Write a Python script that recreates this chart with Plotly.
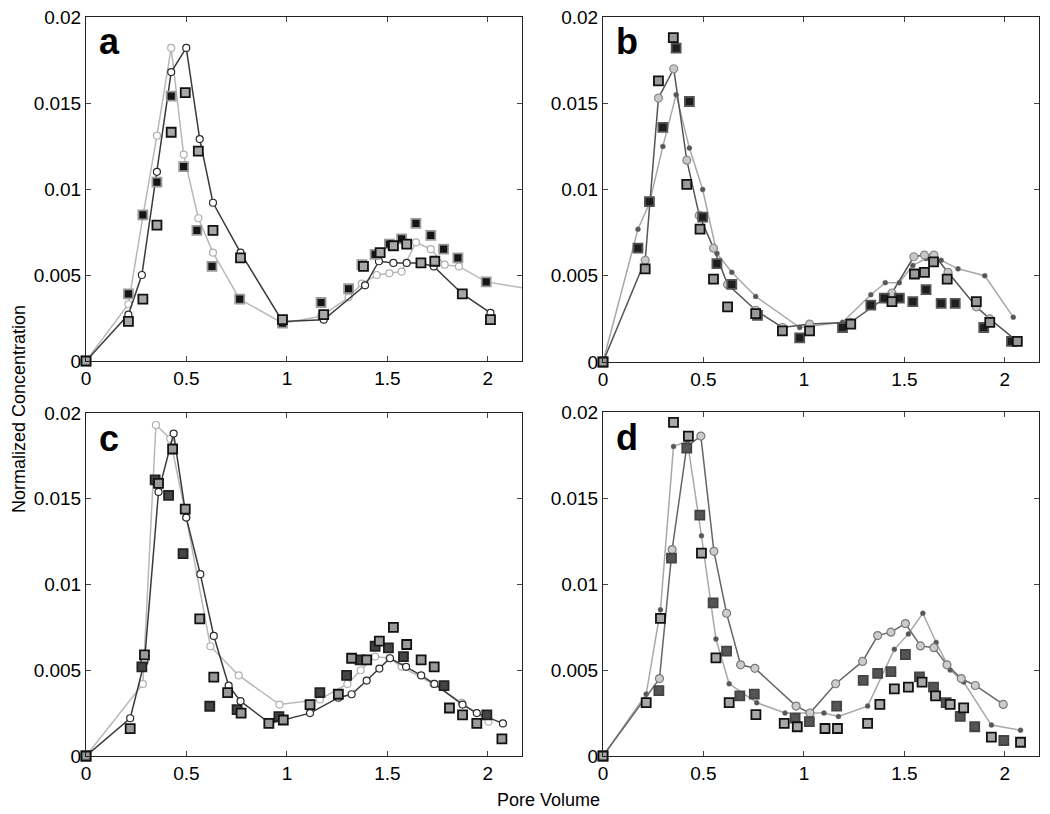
import plotly.graph_objects as go
from plotly.subplots import make_subplots

# panel a
a_lt_x = [0, 0.211, 0.283, 0.353, 0.424, 0.486, 0.559, 0.632, 0.765, 0.978, 1.170, 1.307, 1.373, 1.447, 1.510, 1.571, 1.642, 1.716, 1.785, 1.856, 1.992, 2.30]
a_lt_y = [0, 0.0033, 0.0084, 0.0131, 0.0182, 0.0120, 0.0083, 0.0063, 0.0036, 0.0022, 0.0026, 0.0037, 0.0045, 0.0050, 0.0051, 0.0052, 0.0069, 0.0065, 0.0056, 0.0055, 0.0046, 0.0040]
a_dk_x = [0, 0.211, 0.278, 0.353, 0.424, 0.499, 0.566, 0.632, 0.769, 0.978, 1.183, 1.389, 1.458, 1.530, 1.596, 1.665, 1.731, 1.873, 2.013]
a_dk_y = [0, 0.0027, 0.0050, 0.0110, 0.0168, 0.0182, 0.0129, 0.0092, 0.0063, 0.0023, 0.0024, 0.0044, 0.0058, 0.0057, 0.0057, 0.0057, 0.0055, 0.0039, 0.0028]
a_sqk_x = [0, 0.211, 0.283, 0.353, 0.424, 0.486, 0.552, 0.627, 0.765, 0.978, 1.170, 1.307, 1.373, 1.439, 1.510, 1.571, 1.642, 1.716, 1.780, 1.851, 1.992]
a_sqk_y = [0, 0.0039, 0.0085, 0.0104, 0.0154, 0.0113, 0.0076, 0.0055, 0.0036, 0.0022, 0.0034, 0.0042, 0.0056, 0.0062, 0.0068, 0.0071, 0.0080, 0.0073, 0.0065, 0.0060, 0.0046]
a_sqg_x = [0, 0.211, 0.283, 0.353, 0.424, 0.494, 0.559, 0.632, 0.769, 0.978, 1.183, 1.381, 1.464, 1.530, 1.596, 1.667, 1.736, 1.873, 2.013]
a_sqg_y = [0, 0.0023, 0.0036, 0.0079, 0.0133, 0.0156, 0.0122, 0.0076, 0.0060, 0.0024, 0.0027, 0.0055, 0.0063, 0.0067, 0.0068, 0.0057, 0.0058, 0.0039, 0.0024]

# panel b
b_cir_x = [0, 0.210, 0.276, 0.352, 0.417, 0.479, 0.550, 0.620, 0.760, 0.893, 1.028, 1.233, 1.438, 1.547, 1.600, 1.647, 1.717, 1.858, 1.925, 2.062]
b_cir_y = [0, 0.0059, 0.0153, 0.0170, 0.0117, 0.0085, 0.0066, 0.0045, 0.0030, 0.0020, 0.0022, 0.0023, 0.0040, 0.0061, 0.0062, 0.0062, 0.0052, 0.0032, 0.0025, 0.0012]
b_dot_x = [0, 0.174, 0.231, 0.298, 0.364, 0.430, 0.496, 0.567, 0.641, 0.760, 0.979, 1.192, 1.333, 1.405, 1.475, 1.542, 1.608, 1.683, 1.767, 1.900, 2.042]
b_dot_y = [0, 0.0077, 0.0092, 0.0125, 0.0155, 0.0124, 0.0100, 0.0063, 0.0052, 0.0038, 0.0020, 0.0023, 0.0039, 0.0046, 0.0046, 0.0056, 0.0060, 0.0059, 0.0054, 0.0050, 0.0026]
b_sqk_x = [0, 0.174, 0.231, 0.298, 0.364, 0.430, 0.496, 0.567, 0.641, 0.769, 0.979, 1.192, 1.333, 1.400, 1.475, 1.542, 1.608, 1.683, 1.753, 1.895, 2.033]
b_sqk_y = [0, 0.0066, 0.0093, 0.0136, 0.0182, 0.0151, 0.0084, 0.0057, 0.0045, 0.0027, 0.0014, 0.0020, 0.0033, 0.0037, 0.0037, 0.0035, 0.0042, 0.0034, 0.0034, 0.0020, 0.0012]
b_sqg_x = [0, 0.210, 0.276, 0.350, 0.417, 0.483, 0.550, 0.620, 0.760, 0.893, 1.028, 1.233, 1.438, 1.550, 1.600, 1.645, 1.713, 1.858, 1.925, 2.062]
b_sqg_y = [0, 0.0054, 0.0163, 0.0188, 0.0103, 0.0077, 0.0048, 0.0032, 0.0028, 0.0018, 0.0018, 0.0022, 0.0035, 0.0051, 0.0052, 0.0058, 0.0048, 0.0035, 0.0023, 0.0012]

# panel c
c_lt_x = [0, 0.283, 0.348, 0.419, 0.499, 0.619, 0.760, 0.963, 1.164, 1.301, 1.367, 1.439, 1.510, 1.571, 1.729, 1.870, 2.003]
c_lt_y = [0, 0.0042, 0.0193, 0.0185, 0.0139, 0.0064, 0.0047, 0.0030, 0.0033, 0.0042, 0.0050, 0.0058, 0.0057, 0.0052, 0.0042, 0.0031, 0.0020]
c_dk_x = [0, 0.220, 0.291, 0.361, 0.436, 0.499, 0.569, 0.636, 0.710, 0.769, 0.915, 0.982, 1.115, 1.256, 1.322, 1.397, 1.460, 1.513, 1.593, 1.668, 1.734, 1.874, 1.945, 2.075]
c_dk_y = [0, 0.0022, 0.0055, 0.0154, 0.0188, 0.0139, 0.0106, 0.0070, 0.0041, 0.0032, 0.0019, 0.0021, 0.0025, 0.0034, 0.0036, 0.0044, 0.0051, 0.0057, 0.0052, 0.0047, 0.0042, 0.0030, 0.0025, 0.0019]
c_sqk_x = [0, 0.278, 0.344, 0.411, 0.483, 0.616, 0.752, 0.960, 1.164, 1.297, 1.364, 1.439, 1.505, 1.580, 1.782, 1.995]
c_sqk_y = [0, 0.0052, 0.0161, 0.0152, 0.0118, 0.0029, 0.0027, 0.0023, 0.0037, 0.0047, 0.0056, 0.0064, 0.0063, 0.0058, 0.0041, 0.0024]
c_sqg_x = [0, 0.220, 0.291, 0.361, 0.431, 0.494, 0.566, 0.636, 0.705, 0.772, 0.910, 0.982, 1.115, 1.256, 1.322, 1.397, 1.460, 1.530, 1.596, 1.668, 1.733, 1.809, 1.874, 1.945, 2.070]
c_sqg_y = [0, 0.0016, 0.0059, 0.0159, 0.0179, 0.0144, 0.0080, 0.0046, 0.0037, 0.0025, 0.0019, 0.0021, 0.0030, 0.0036, 0.0057, 0.0056, 0.0067, 0.0075, 0.0065, 0.0056, 0.0052, 0.0028, 0.0024, 0.0019, 0.0010]

# panel d
d_cir_x = [0, 0.281, 0.344, 0.417, 0.487, 0.552, 0.615, 0.685, 0.756, 0.961, 1.030, 1.158, 1.292, 1.367, 1.433, 1.505, 1.580, 1.647, 1.712, 1.783, 1.853, 1.992]
d_cir_y = [0, 0.0045, 0.0120, 0.0180, 0.0186, 0.0119, 0.0083, 0.0053, 0.0051, 0.0029, 0.0025, 0.0042, 0.0055, 0.0070, 0.0072, 0.0077, 0.0064, 0.0063, 0.0053, 0.0045, 0.0041, 0.0030]
d_dot_x = [0, 0.215, 0.286, 0.351, 0.420, 0.490, 0.562, 0.628, 0.765, 0.906, 1.100, 1.172, 1.317, 1.450, 1.520, 1.592, 1.658, 1.728, 1.795, 1.933, 2.078]
d_dot_y = [0, 0.0036, 0.0085, 0.0180, 0.0183, 0.0128, 0.0068, 0.0042, 0.0031, 0.0025, 0.0025, 0.0023, 0.0029, 0.0062, 0.0071, 0.0083, 0.0066, 0.0050, 0.0043, 0.0018, 0.0015]
d_sqk_x = [0, 0.278, 0.341, 0.417, 0.482, 0.548, 0.615, 0.681, 0.753, 0.956, 1.027, 1.163, 1.295, 1.367, 1.433, 1.505, 1.575, 1.645, 1.708, 1.778, 1.850, 1.995]
d_sqk_y = [0, 0.0038, 0.0115, 0.0179, 0.0140, 0.0089, 0.0061, 0.0035, 0.0036, 0.0022, 0.0020, 0.0029, 0.0044, 0.0048, 0.0049, 0.0059, 0.0046, 0.0040, 0.0031, 0.0023, 0.0017, 0.0009]
d_sqg_x = [0, 0.215, 0.286, 0.351, 0.425, 0.490, 0.562, 0.628, 0.761, 0.902, 0.967, 1.105, 1.167, 1.317, 1.378, 1.450, 1.520, 1.588, 1.655, 1.728, 1.795, 1.933, 2.078]
d_sqg_y = [0, 0.0031, 0.0080, 0.0194, 0.0186, 0.0118, 0.0057, 0.0031, 0.0024, 0.0019, 0.0017, 0.0016, 0.0016, 0.0019, 0.0030, 0.0039, 0.0040, 0.0043, 0.0035, 0.0030, 0.0028, 0.0011, 0.0008]

x_ticks = [0, 0.5, 1, 1.5, 2]
x_ticktext = ["0", "0.5", "1", "1.5", "2"]
y_ticks = [0, 0.005, 0.01, 0.015, 0.02]
y_ticktext = ["0", "0.005", "0.01", "0.015", "0.02"]
panel_labels = ["a", "b", "c", "d"]

FONT = "Liberation Sans, Arial, sans-serif"
OFF = 8  # page body margin
W, H = 1050 - OFF, 814 - OFF


def px(xp):
    return (xp - OFF) / W


def py(yp):
    return 1 - (yp - OFF) / H


def line_trace(x, y, lcol, mfill, mline, size, lw=1.5, mlw=1.2):
    return go.Scatter(x=x, y=y, mode="lines+markers", showlegend=False,
                      line=dict(color=lcol, width=lw),
                      marker=dict(symbol="circle", size=size, color=mfill,
                                  line=dict(color=mline, width=mlw)))


def sq_trace(x, y, fill, border, bw=1.8):
    return go.Scatter(x=x, y=y, mode="markers", showlegend=False, cliponaxis=False,
                      marker=dict(symbol="square", size=9, color=fill,
                                  line=dict(color=border, width=bw)))


fig = make_subplots(rows=2, cols=2)

# a: open circles on light and dark lines
fig.add_trace(line_trace(a_lt_x, a_lt_y, "#b8b8b8", "white", "#b0b0b0", 7), row=1, col=1)
fig.add_trace(line_trace(a_dk_x, a_dk_y, "#3a3a3a", "white", "#2a2a2a", 7), row=1, col=1)
fig.add_trace(sq_trace(a_sqk_x, a_sqk_y, "#151515", "#9a9a9a"), row=1, col=1)
fig.add_trace(sq_trace(a_sqg_x, a_sqg_y, "#a8a8a8", "#111111"), row=1, col=1)

# b: filled circles + small dots
fig.add_trace(line_trace(b_dot_x, b_dot_y, "#a8a8a8", "#555555", "#777777", 5, mlw=0.5), row=1, col=2)
fig.add_trace(line_trace(b_cir_x, b_cir_y, "#555555", "#c8c8c8", "#8a8a8a", 8), row=1, col=2)
fig.add_trace(sq_trace(b_sqk_x, b_sqk_y, "#1e1e1e", "#555555"), row=1, col=2)
fig.add_trace(sq_trace(b_sqg_x, b_sqg_y, "#9a9a9a", "#111111"), row=1, col=2)

# c
fig.add_trace(line_trace(c_lt_x, c_lt_y, "#b8b8b8", "white", "#b0b0b0", 7), row=2, col=1)
fig.add_trace(line_trace(c_dk_x, c_dk_y, "#3a3a3a", "white", "#2a2a2a", 7), row=2, col=1)
fig.add_trace(sq_trace(c_sqk_x, c_sqk_y, "#444444", "#222222"), row=2, col=1)
fig.add_trace(sq_trace(c_sqg_x, c_sqg_y, "#9a9a9a", "#111111"), row=2, col=1)

# d
fig.add_trace(line_trace(d_dot_x, d_dot_y, "#a8a8a8", "#555555", "#777777", 5, mlw=0.5), row=2, col=2)
fig.add_trace(line_trace(d_cir_x, d_cir_y, "#666666", "#cccccc", "#7a7a7a", 8), row=2, col=2)
fig.add_trace(sq_trace(d_sqk_x, d_sqk_y, "#555555", "#444444"), row=2, col=2)
fig.add_trace(sq_trace(d_sqg_x, d_sqg_y, "#a8a8a8", "#111111"), row=2, col=2)

# page-pixel boxes of the four plot areas (left, right, top, bottom)
boxes = [(86, 522, 17, 361), (603, 1039, 17, 362), (86, 522, 413, 756), (603, 1039, 412, 756)]
for i, (l, r, t, b) in enumerate(boxes, start=1):
    sfx = "" if i == 1 else str(i)
    fig.layout["xaxis" + sfx].update(
        domain=[px(l), px(r)], range=[0, 2.17], tickvals=x_ticks, ticktext=x_ticktext,
        showline=True, linecolor="#222", linewidth=1, mirror="ticks", ticks="inside",
        ticklen=5, tickcolor="#444", showgrid=False, zeroline=False, automargin=False,
        ticklabeloverflow="allow", tickfont=dict(family=FONT, size=19, color="black"))
    fig.layout["yaxis" + sfx].update(
        domain=[py(b), py(t)], range=[0, 0.02], tickvals=y_ticks, ticktext=y_ticktext,
        showline=True, linecolor="#222", linewidth=1, mirror="ticks", ticks="inside",
        ticklen=5, tickcolor="#444", showgrid=False, zeroline=False, automargin=False,
        ticklabeloverflow="allow", tickfont=dict(family=FONT, size=19, color="black"))
    fig.add_annotation(text="<b>%s</b>" % panel_labels[i - 1], xref="paper", yref="paper",
                       x=px(l + 11), y=py(t + 25), xanchor="left", yanchor="middle",
                       showarrow=False, font=dict(family=FONT, size=36, color="black"))

fig.add_annotation(text="Normalized Concentration", xref="paper", yref="paper",
                   x=px(19), y=py(409), textangle=-90, showarrow=False,
                   xanchor="center", yanchor="middle",
                   font=dict(family=FONT, size=18, color="black"))
fig.add_annotation(text="Pore Volume", xref="paper", yref="paper",
                   x=px(548), y=py(800), showarrow=False,
                   xanchor="center", yanchor="middle",
                   font=dict(family=FONT, size=18, color="black"))

fig.update_layout(width=W, height=H, margin=dict(l=0, r=0, t=0, b=0),
                  plot_bgcolor="white", paper_bgcolor="white", showlegend=False)

fig.write_html("out.html")
